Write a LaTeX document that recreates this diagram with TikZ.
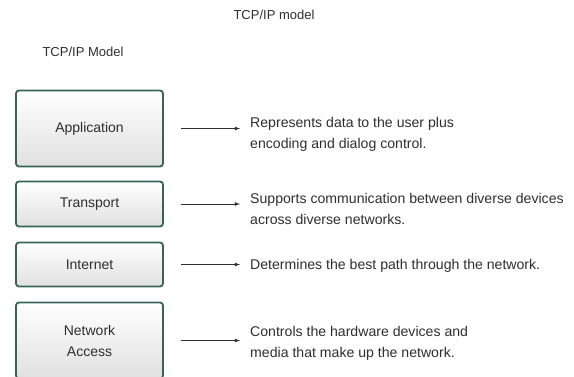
\documentclass[tikz,border=0pt]{standalone}
\usepackage{fontspec}
\setmainfont{Liberation Sans}
\usetikzlibrary{calc}
\definecolor{boxline}{HTML}{3A6356}
\definecolor{txt}{HTML}{2E2E2E}
\tikzset{
  layer/.style={draw=boxline,line width=1.8pt,rounded corners=3pt,
    top color=white,bottom color=gray!24,minimum width=147pt,
    align=center,text=txt,font=\fontsize{14}{21}\selectfont},
  desc/.style={anchor=west,inner sep=0pt,align=left,text=txt,
    font=\fontsize{14.1}{21}\selectfont},
  arr/.style={-latex,line width=0.8pt,txt}
}
\begin{document}
\begin{tikzpicture}[x=1pt,y=-1pt]
    \useasboundingbox (0,0) rectangle (574,377);
    \node (title) at (274,15) [text=txt,font=\fontsize{13}{15}\selectfont] {TCP/IP model} ;
    \node (model) at (83,52) [text=txt,font=\fontsize{13}{15}\selectfont] {TCP/IP Model} ;
    % layers
    \node (app) at (89.5,128.5) [layer,minimum height=76pt] {Application} ;
    \node (tr) at (89.5,204) [layer,minimum height=45pt] {Transport} ;
    \node (inet) at (89.5,264.5) [layer,minimum height=44pt] {Internet} ;
    \node (na) at (89.5,340.5) [layer,minimum height=76pt] {Network\\Access} ;
    % descriptions
    \node (appd) at (250,134.5) [desc] {Represents data to the user plus\\encoding and dialog control.} ;
    \node (trd) at (250,209) [desc] {Supports communication between diverse devices\\across diverse networks.} ;
    \node (inetd) at (250,266) [desc] {Determines the best path through the network.} ;
    \node (nad) at (250,343) [desc] {Controls the hardware devices and\\media that make up the network.} ;
    \foreach \b/\d in {app/appd,tr/trd,inet/inetd,na/nad}
      \draw[arr] ([xshift=17pt]\b.east) -- ($(\d.west |- \b.east)+(-10,0)$);
\end{tikzpicture}
\end{document}
